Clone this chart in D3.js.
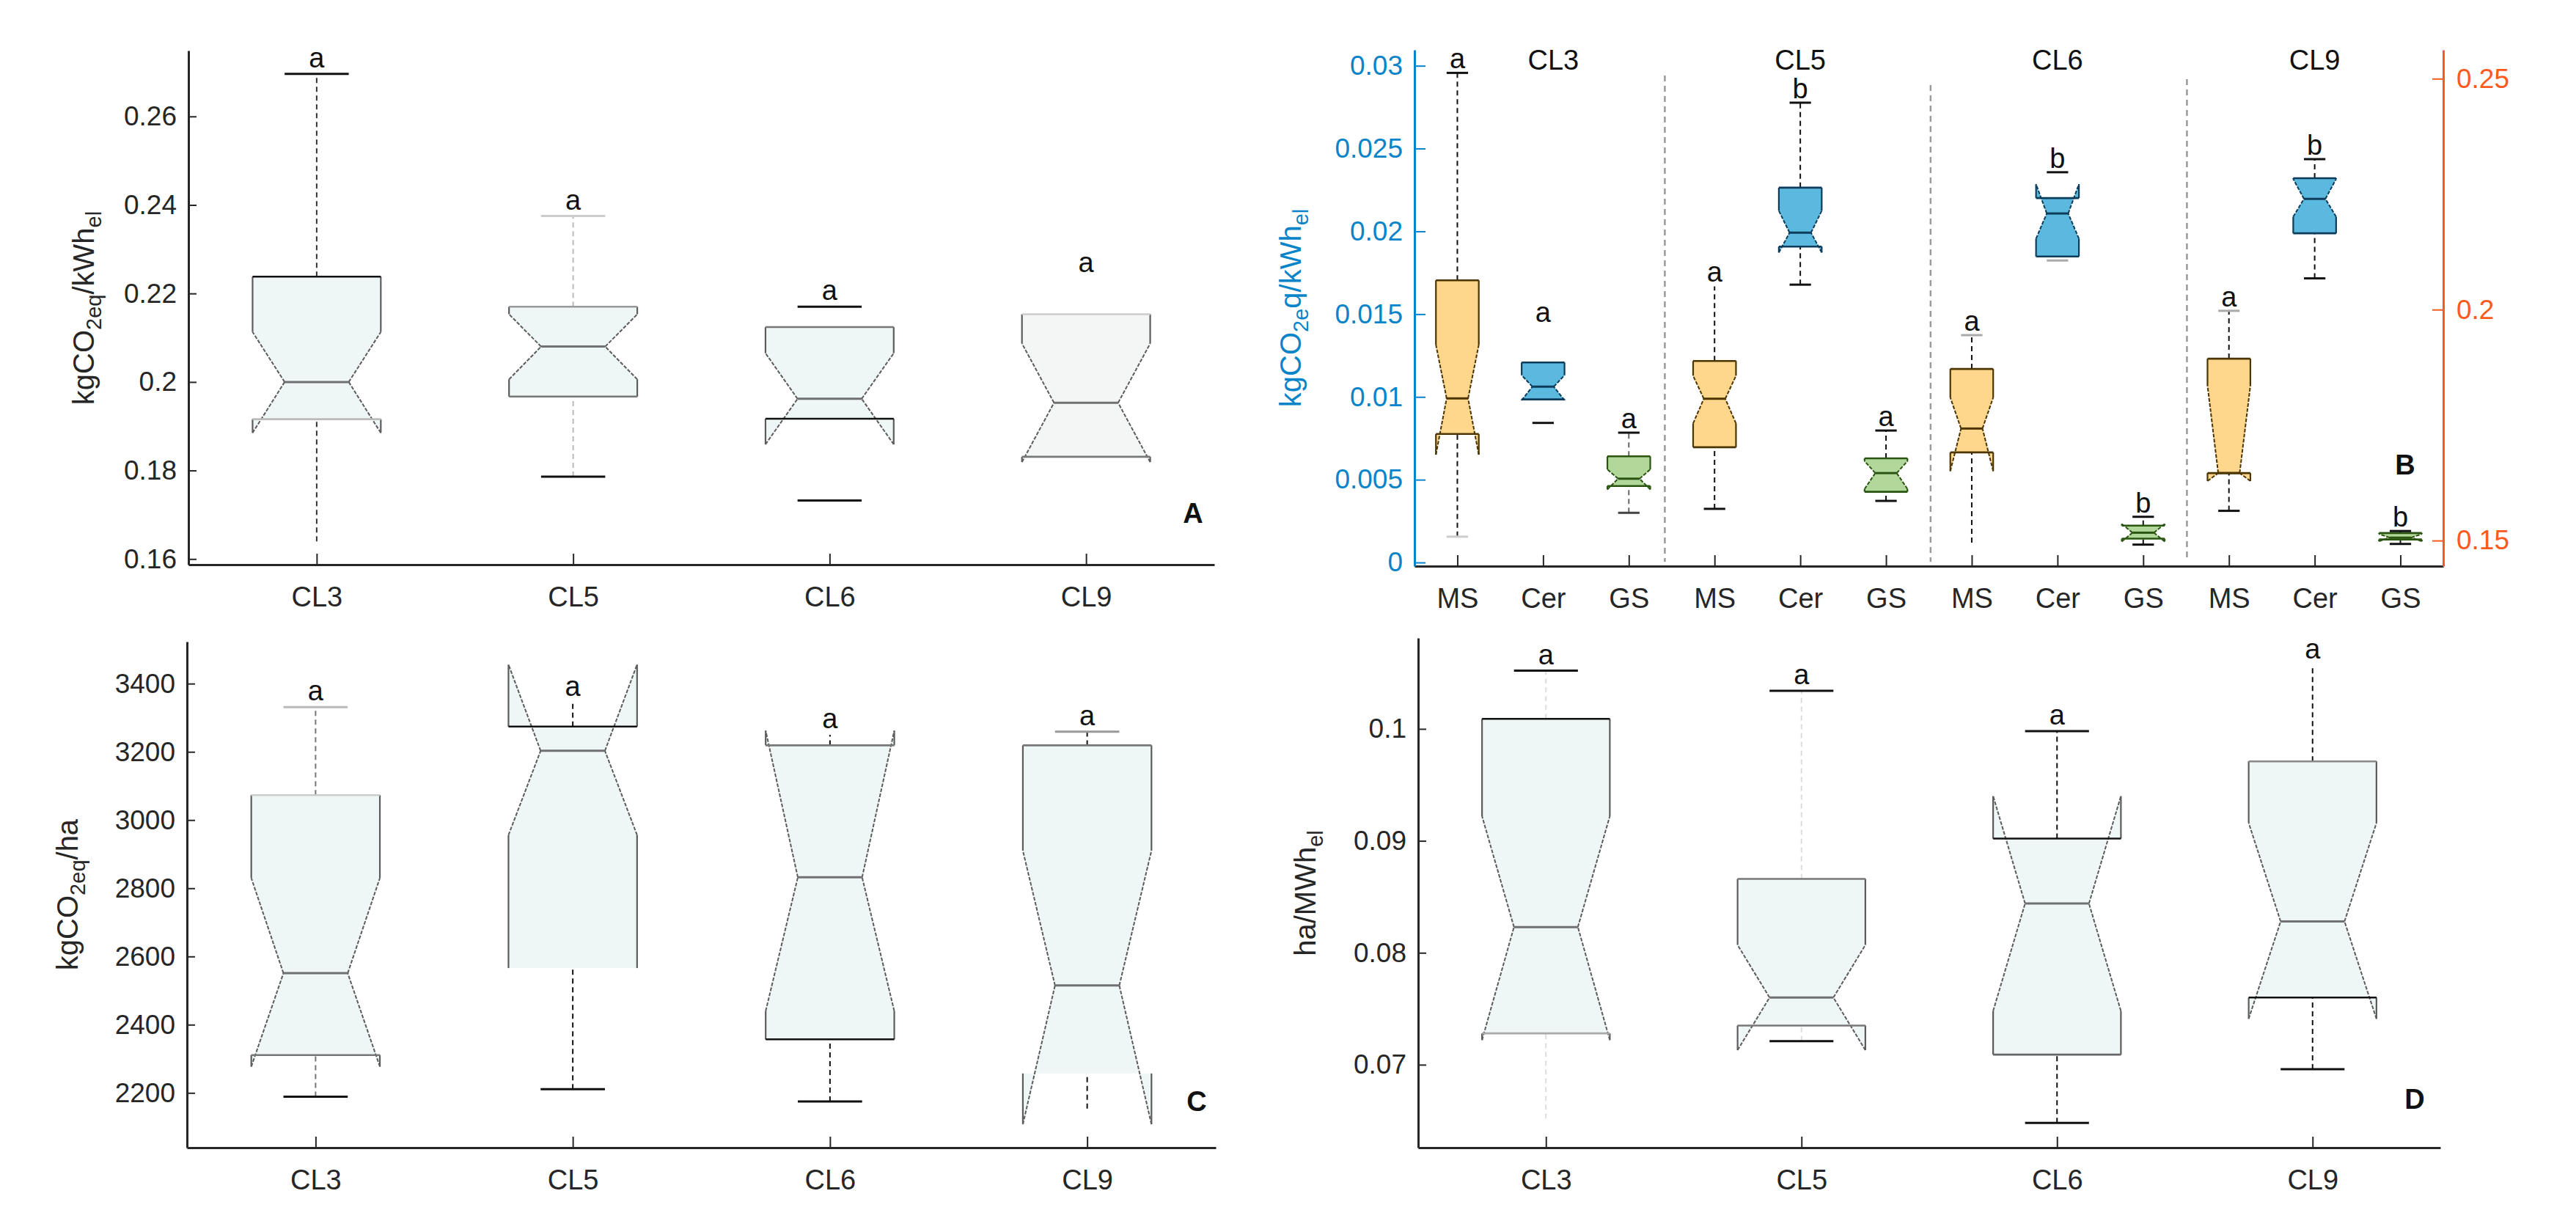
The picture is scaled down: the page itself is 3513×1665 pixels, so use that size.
<!DOCTYPE html>
<html><head><meta charset="utf-8">
<script src="https://cdn.jsdelivr.net/npm/d3@7"></script>
<style>body{margin:0;background:#fff} svg{display:block} text{font-family:"Liberation Sans",Arial,sans-serif}</style>
</head><body><svg id="chart" width="3513" height="1665"></svg>
<script>
// ---------------- DATA ----------------
const clusters = ["CL3","CL5","CL6","CL9"];
const crops = ["MS","Cer","GS"];

// Panel A  kgCO2eq/kWhel
const aTicks = ["0.16","0.18","0.2","0.22","0.24","0.26"];
const aLow     = [0.1640,0.1786,0.1732,0.1831];
const aQ1      = [0.1916,0.1967,0.1917,0.1831];
const aNotchLo = [0.1885,0.2006,0.1859,0.1819];
const aMedian  = [0.2000,0.2080,0.1962,0.1953];
const aNotchHi = [0.2113,0.2153,0.2065,0.2087];
const aQ3      = [0.2238,0.2170,0.2124,0.2153];
const aHigh    = [0.2696,0.2375,0.2170,0.2233];
const aLetters = ["a","a","a","a"];

// Panel B  kgCO2eq/kWhel per crop (order: cluster, then MS/Cer/GS)
const bTicks = ["0","0.005","0.01","0.015","0.02","0.025","0.03"];
const bRightTicks = ["0.15","0.2","0.25"];
const bLow     = [0.00156,0.00843,0.00300, 0.00324,0.01678,0.00372, 0.00120,0.01824,0.00108, 0.00312,0.01716,0.00112];
const bQ1      = [0.00776,0.00985,0.00462, 0.00696,0.01908,0.00427, 0.00665,0.01848,0.00144, 0.00540,0.01988,0.00139];
const bNotchLo = [0.00651,0.00980,0.00441, 0.00840,0.01872,0.00444, 0.00552,0.01956,0.00127, 0.00492,0.02088,0.00128];
const bMedian  = [0.00991,0.01062,0.00506, 0.00989,0.01992,0.00540, 0.00809,0.02108,0.00180, 0.00540,0.02196,0.00150];
const bNotchHi = [0.01315,0.01131,0.00562, 0.01128,0.02124,0.00612, 0.00996,0.02285,0.00233, 0.01068,0.02316,0.00172];
const bQ3      = [0.01704,0.01208,0.00641, 0.01217,0.02264,0.00629, 0.01169,0.02201,0.00223, 0.01231,0.02321,0.00178];
const bHigh    = [0.02957,0.01428,0.00784, 0.01668,0.02777,0.00797, 0.01373,0.02357,0.00276, 0.01520,0.02436,0.00190];
const bLetters = ["a","a","a", "a","b","a", "a","b","b", "a","b","b"];
const bSeparators = [2.42, 5.52, 8.51]; // in category-index units

// Panel C  kgCO2eq/ha
const cTicks = ["2200","2400","2600","2800","3000","3200","3400"];
const cLow     = [2189,2211,2175,2154];
const cQ1      = [2311,2566,2357,2257];
const cNotchLo = [2277,2956,2440,2108];
const cMedian  = [2551,3203,2832,2515];
const cNotchHi = [2830,3456,3262,2910];
const cQ3      = [3073,3274,3219,3219];
const cHigh    = [3331,3345,3250,3259];
const cLetters = ["a","a","a","a"];

// Panel D  ha/MWhel
const dTicks = ["0.07","0.08","0.09","0.1"];
const dLow     = [0.0652,0.0721,0.0648,0.0696];
const dQ1      = [0.0728,0.0735,0.0709,0.0760];
const dNotchLo = [0.0722,0.0713,0.0748,0.0741];
const dMedian  = [0.0823,0.0760,0.0844,0.0828];
const dNotchHi = [0.0922,0.0807,0.0940,0.0916];
const dQ3      = [0.1009,0.0866,0.0902,0.0971];
const dHigh    = [0.1052,0.1034,0.0998,0.1057];
const dLetters = ["a","a","a","a"];

// ---------------- STYLES ----------------
const INK = "#262626";
const BLUE = "#0a84c8", ORANGE = "#fb5a1e";
const greyFill = ["#eff6f6","#eff6f6","#eff6f6","#f4f5f5"];
const greyStroke = "#5c5c5c";
const cropFill = {MS:"#fed68c", Cer:"#5bb9df", GS:"#b2d79a"};
const cropStroke = {MS:"#4d3500", Cer:"#0c3c5a", GS:"#2a5510"};
const headingShift = [14, 0, 0, 0];
// whisker / caps / quartile-line colours (or none)
const aStyle = {wh:["#333","#bbb","none","none"], capHi:["#111","#ccc","#111","none"], capLo:["none","#111","#111","none"],
  q3:["#111","#999","#777","#ccc"], q1:["#bbb","#777","#111","#777"]};
const bStyle = {
  wh:   ["#111","none","#666", "#111","#111","#111", "#111","none","#111", "#111","#111","#111"],
  capHi:["#111","none","#111", "none","#111","#111", "#aaa","#111","#111", "#aaa","#111","#111"],
  capLo:["#ccc","#111","#444", "#111","#111","#111", "none","#aaa","#111", "#111","#111","#111"]};
const cStyle = {wh:["#777","#111","#111","#111"], capHi:["#bbb","none","none","#999"], capLo:["#111","#111","#111","none"],
  q3:["#ccc","#111","#777","#777"], q1:["#777","none","#111","none"]};
const dStyle = {wh:["#ddd","#ddd","#111","#111"], capHi:["#111","#111","#111","none"], capLo:["none","#111","#111","#111"],
  q3:["#111","#777","#111","#888"], q1:["#aaa","#777","#666","#111"]};

const svg = d3.select("#chart");

function addTitle(g, parts, x, y, color) {
  const t = g.append("text").attr("transform", `translate(${x},${y}) rotate(-90)`)
    .attr("text-anchor","middle").attr("fill", color).attr("font-size", 40);
  let shifted = false;
  parts.forEach(([s, sub]) => {
    const ts = t.append("tspan").text(s);
    if (sub && !shifted) { ts.attr("dy", 10).attr("font-size", 29); shifted = true; }
    else if (!sub && shifted) { ts.attr("dy", -10).attr("font-size", 40); shifted = false; }
    else ts.attr("font-size", sub ? 29 : 40);
  });
}

function drawPanel(p) {
  const g = svg.append("g");
  const x = d3.scalePoint().domain(p.keys).range([p.left, p.right]).padding(0.5);
  const y = d3.scaleLinear().domain(p.domain).range([p.bottom, p.top]);
  const hw = x.step() * 0.25, nw = hw * 0.5, cw = hw * 0.5;
  const s = p.stats;

  if (p.separators) {
    const ix = d3.scaleLinear().domain([0, p.keys.length - 1]).range([x(p.keys[0]), x(p.keys[p.keys.length - 1])]);
    g.selectAll("line.sep").data(p.separators).join("line")
      .attr("x1", d => ix(d)).attr("x2", d => ix(d))
      .attr("y1", (d,i) => p.sepTop[i]).attr("y2", p.bottom - 6)
      .attr("stroke", "#9a9a9a").attr("stroke-width", 2.5).attr("stroke-dasharray", "8,6");
  }

  const xa = d3.axisBottom(x).tickSize(-15).tickSizeOuter(0).tickPadding(30).tickFormat(p.xfmt || (d => d));
  const gx = g.append("g").attr("transform", `translate(0,${p.bottom})`).call(xa);
  gx.select(".domain").attr("stroke", INK).attr("stroke-width", 3);
  gx.selectAll(".tick line").attr("stroke", INK).attr("stroke-width", 2);
  gx.selectAll("text").attr("font-size", 38).attr("fill", INK).attr("font-family", '"Liberation Sans", Arial, sans-serif');

  const ya = d3.axisLeft(y).tickValues(p.ticks.map(Number)).tickFormat((d,i) => p.ticks[i])
    .tickSize(-p.tickLen).tickSizeOuter(0).tickPadding(16);
  const gy = g.append("g").attr("transform", `translate(${p.left},0)`).call(ya);
  gy.select(".domain").attr("stroke", p.axisColor).attr("stroke-width", 3);
  gy.selectAll(".tick line").attr("stroke", p.axisColor).attr("stroke-width", 2);
  gy.selectAll("text").attr("font-size", 37).attr("fill", p.axisColor).attr("font-family", '"Liberation Sans", Arial, sans-serif');

  const idx = d3.range(p.keys.length);
  const cx = i => x(p.keys[i]);
  const line = d3.line();
  const seg = (a, b) => line([[a[0], y(a[1])], [b[0], y(b[1])]]);

  // whiskers
  idx.forEach(i => {
    if (p.style.wh[i] === "none") return;
    [[s.q3[i], s.hi[i]], [s.lo[i], s.q1[i]]].forEach(([a, b]) => {
      if (b <= a) return;
      g.append("line").attr("x1", cx(i)).attr("x2", cx(i)).attr("y1", y(a)).attr("y2", y(b))
        .attr("stroke", p.style.wh[i]).attr("stroke-width", 2).attr("stroke-dasharray", "7,5");
    });
  });

  // notched boxes
  idx.forEach(i => {
    const c = cx(i), L = c - hw, R = c + hw, ml = c - nw, mr = c + nw;
    const st = p.stroke(i);
    const pts = [[L, s.q1[i]], [L, s.nlo[i]], [ml, s.med[i]], [L, s.nhi[i]], [L, s.q3[i]],
                 [R, s.q3[i]], [R, s.nhi[i]], [mr, s.med[i]], [R, s.nlo[i]], [R, s.q1[i]]]
                .map(([px, v]) => [px, y(v)]);
    g.append("path").attr("d", line(pts) + "Z").attr("fill", p.fill(i)).attr("stroke", "none");
    [[[L, s.q1[i]], [L, s.nlo[i]]], [[L, s.nhi[i]], [L, s.q3[i]]],
     [[R, s.q1[i]], [R, s.nlo[i]]], [[R, s.nhi[i]], [R, s.q3[i]]]].forEach(([a, b]) =>
      g.append("path").attr("d", seg(a, b)).attr("stroke", st).attr("stroke-width", 2.2).attr("fill", "none"));
    [[[L, s.nlo[i]], [ml, s.med[i]]], [[ml, s.med[i]], [L, s.nhi[i]]],
     [[R, s.nlo[i]], [mr, s.med[i]]], [[mr, s.med[i]], [R, s.nhi[i]]]].forEach(([a, b]) =>
      g.append("path").attr("d", seg(a, b)).attr("stroke", st).attr("stroke-width", 2)
        .attr("fill", "none").attr("stroke-dasharray", "5,2"));
    const q3c = p.style.q3 ? p.style.q3[i] : st, q1c = p.style.q1 ? p.style.q1[i] : st;
    if (q3c !== "none") g.append("path").attr("d", seg([L, s.q3[i]], [R, s.q3[i]])).attr("stroke", q3c).attr("stroke-width", 2.6);
    if (q1c !== "none") g.append("path").attr("d", seg([L, s.q1[i]], [R, s.q1[i]])).attr("stroke", q1c).attr("stroke-width", 2.6);
    g.append("path").attr("d", seg([ml, s.med[i]], [mr, s.med[i]]))
      .attr("stroke", p.medianColor ? p.medianColor : st).attr("stroke-width", 3);
  });

  // caps
  idx.forEach(i => {
    [[s.hi[i], p.style.capHi[i]], [s.lo[i], p.style.capLo[i]]].forEach(([v, col]) => {
      if (col === "none") return;
      g.append("line").attr("x1", cx(i) - cw).attr("x2", cx(i) + cw).attr("y1", y(v)).attr("y2", y(v))
        .attr("stroke", col).attr("stroke-width", 3);
    });
  });

  // significance letters
  g.selectAll("text.sig").data(idx).join("text").attr("class", "sig")
    .attr("x", i => cx(i)).attr("y", i => y(s.hi[i]) - p.letterOff)
    .attr("text-anchor", "middle").attr("font-size", 38).attr("fill", "#111")
    .text(i => p.letters[i]);

  return {g, x, y};
}

// ---------- Panel A ----------
const A = drawPanel({
  keys: clusters, left: 257, right: 1656, top: 69, bottom: 770, domain: [0.15872, 0.27488],
  ticks: aTicks, tickLen: 11, axisColor: INK,
  stats: {lo: aLow, q1: aQ1, nlo: aNotchLo, med: aMedian, nhi: aNotchHi, q3: aQ3, hi: aHigh},
  style: aStyle, fill: i => greyFill[i], stroke: () => greyStroke, medianColor: "#707070",
  letters: aLetters, letterOff: 9
});
addTitle(A.g, [["kgCO"], ["2eq", true], ["/kWh"], ["el", true]], 128, 420, INK);
A.g.append("text").attr("x", 1627).attr("y", 713).attr("text-anchor", "middle")
  .attr("font-size", 38).attr("font-weight", "bold").attr("fill", "#111").text("A");

// ---------- Panel B ----------
const bKeys = clusters.flatMap(c => crops.map(k => c + "|" + k));
const B = drawPanel({
  keys: bKeys, left: 1929, right: 3332, top: 68, bottom: 772, domain: [-0.00022, 0.03096],
  ticks: bTicks, tickLen: 15, axisColor: BLUE, xfmt: d => d.split("|")[1],
  stats: {lo: bLow, q1: bQ1, nlo: bNotchLo, med: bMedian, nhi: bNotchHi, q3: bQ3, hi: bHigh},
  style: bStyle, fill: i => cropFill[crops[i % 3]], stroke: i => cropStroke[crops[i % 3]],
  letters: bLetters, letterOff: 6, separators: bSeparators, sepTop: [103, 116, 108]
});
addTitle(B.g, [["kgCO"], ["2e", true], ["q/kWh"], ["el", true]], 1774, 420, BLUE);
const yR = d3.scaleLinear().domain([0.14446, 0.25624]).range([772, 68]);
const gR = B.g.append("g").attr("transform", "translate(3332,0)")
  .call(d3.axisRight(yR).tickValues(bRightTicks.map(Number)).tickFormat((d,i) => bRightTicks[i])
    .tickSize(-15).tickSizeOuter(0).tickPadding(18));
gR.select(".domain").attr("stroke", ORANGE).attr("stroke-width", 3);
gR.selectAll(".tick line").attr("stroke", ORANGE).attr("stroke-width", 2);
gR.selectAll("text").attr("font-size", 37).attr("fill", ORANGE).attr("font-family", '"Liberation Sans", Arial, sans-serif');
B.g.selectAll("text.grp").data(clusters).join("text").attr("class", "grp")
  .attr("x", (c, i) => B.x(c + "|Cer") + headingShift[i]).attr("y", 95).attr("text-anchor", "middle")
  .attr("font-size", 38).attr("fill", "#111").text(c => c);
B.g.append("text").attr("x", 3280).attr("y", 647).attr("text-anchor", "middle")
  .attr("font-size", 38).attr("font-weight", "bold").attr("fill", "#111").text("B");

// ---------- Panel C ----------
const C = drawPanel({
  keys: clusters, left: 255, right: 1658, top: 875, bottom: 1565, domain: [2039.4, 3523],
  ticks: cTicks, tickLen: 11, axisColor: INK,
  stats: {lo: cLow, q1: cQ1, nlo: cNotchLo, med: cMedian, nhi: cNotchHi, q3: cQ3, hi: cHigh},
  style: cStyle, fill: () => "#eff6f6", stroke: () => greyStroke, medianColor: "#707070",
  letters: cLetters, letterOff: 9
});
addTitle(C.g, [["kgCO"], ["2eq", true], ["/ha"]], 106, 1220, INK);
C.g.append("text").attr("x", 1632).attr("y", 1515).attr("text-anchor", "middle")
  .attr("font-size", 38).attr("font-weight", "bold").attr("fill", "#111").text("C");

// ---------- Panel D ----------
const D = drawPanel({
  keys: clusters, left: 1934, right: 3328, top: 870, bottom: 1565, domain: [0.06259, 0.10812],
  ticks: dTicks, tickLen: 11, axisColor: INK,
  stats: {lo: dLow, q1: dQ1, nlo: dNotchLo, med: dMedian, nhi: dNotchHi, q3: dQ3, hi: dHigh},
  style: dStyle, fill: () => "#eff6f6", stroke: () => greyStroke, medianColor: "#707070",
  letters: dLetters, letterOff: 9
});
addTitle(D.g, [["ha/MWh"], ["el", true]], 1794, 1218, INK);
D.g.append("text").attr("x", 3293).attr("y", 1512).attr("text-anchor", "middle")
  .attr("font-size", 38).attr("font-weight", "bold").attr("fill", "#111").text("D");
</script>
</body></html>
